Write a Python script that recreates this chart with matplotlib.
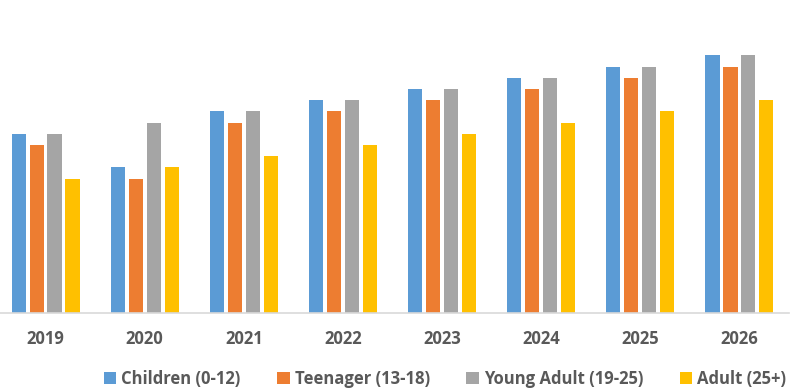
import numpy as np
import matplotlib
matplotlib.use("Agg")
import matplotlib.pyplot as plt

# data
years = ["2019", "2020", "2021", "2022", "2023", "2024", "2025", "2026"]
children = [16, 13, 18, 19, 20, 21, 22, 23]
teenager = [15, 12, 17, 18, 19, 20, 21, 22]
young_adult = [16, 17, 18, 19, 20, 21, 22, 23]
adult = [12, 13, 14, 15, 16, 17, 18, 19]

series_names = ["Children (0-12)", "Teenager (13-18)", "Young Adult (19-25)", "Adult (25+)"]
colors = ["#5B9BD5", "#ED7D31", "#A5A5A5", "#FFC000"]

plt.rcParams['font.family'] = ['Open Sans', 'DejaVu Sans']

fig = plt.figure(figsize=(7.94, 3.9), dpi=100)
ax = fig.add_axes([-4 / 794, 77 / 390, 793 / 794, 280 / 390])

x = np.arange(len(years))
pitch = 0.181
width = 0.142
for i, (vals, name, col) in enumerate(zip([children, teenager, young_adult, adult], series_names, colors)):
    ax.bar(x + (i - 1.5) * pitch, vals, width, color=col, label=name)

ax.set_xlim(-0.5, len(years) - 0.5)
ax.set_ylim(0, 25)
ax.set_xticks(x)
ax.set_xticklabels(years, fontsize=12, fontweight='bold', color='#595959')
ax.tick_params(axis='x', length=0, pad=12)
ax.set_yticks([])
for side in ['top', 'left', 'right']:
    ax.spines[side].set_visible(False)
ax.spines['bottom'].set_color('#D9D9D9')
ax.spines['bottom'].set_linewidth(1.2)

leg = fig.legend(loc='center', bbox_to_anchor=(445 / 794, 11 / 390), ncol=4, frameon=False,
                 prop={'size': 12, 'weight': 'bold'}, handlelength=0.75, handleheight=0.75,
                 handletextpad=0.3, columnspacing=2.2, borderaxespad=0)
for t in leg.get_texts():
    t.set_color('#595959')

fig.savefig("out.png", dpi=100)
